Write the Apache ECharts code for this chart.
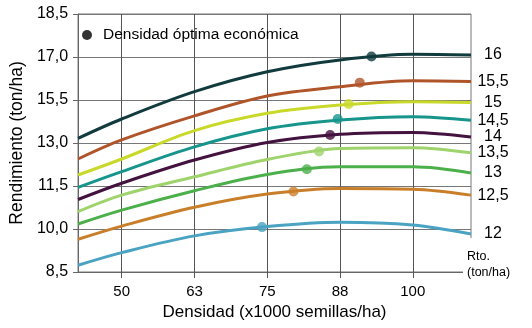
<!DOCTYPE html>
<html>
<head>
<meta charset="utf-8">
<script src="https://cdn.jsdelivr.net/npm/echarts@6/dist/echarts.min.js"></script>
<style>html,body{margin:0;padding:0;background:#fff;}#c{width:532px;height:328px;}</style>
</head>
<body>
<div id="c"></div>
<script>
// Density (x1000 seeds/ha) sample points
const densidad = [42.5, 50, 62.5, 75, 87.5, 100, 110];
// Yield curves (ton/ha), one per "Rto." level
const rto16   = [13.68, 14.43, 15.49, 16.26, 16.72, 16.94, 16.91];
const rto15_5 = [12.88, 13.62, 14.55, 15.32, 15.68, 15.91, 15.88];
const rto15   = [12.26, 12.88, 13.98, 14.65, 14.97, 15.10, 15.07];
const rto14_5 = [11.78, 12.39, 13.35, 14.05, 14.39, 14.52, 14.38];
const rto14   = [11.31, 11.94, 12.84, 13.52, 13.84, 13.91, 13.73];
const rto13_5 = [10.84, 11.48, 12.19, 12.86, 13.29, 13.32, 13.12];
const rto13   = [10.36, 10.90, 11.65, 12.28, 12.58, 12.58, 12.34];
const rto12_5 = [9.77, 10.28, 11.01, 11.52, 11.74, 11.71, 11.48];
const rto12   = [8.76, 9.25, 9.90, 10.26, 10.43, 10.32, 9.97];
// Economic optimum density points (same order as curves)
const optDensidad = [92.9, 90.9, 89.0, 87.1, 85.8, 83.9, 81.8, 79.5, 74.1];
const optRto      = [16.85, 15.84, 15.01, 14.43, 13.81, 13.17, 12.48, 11.62, 10.24];
// Labels
const curveLabels = ['16', '15,5', '15', '14,5', '14', '13,5', '13', '12,5', '12'];
const yTickLabels = ['8,5', '10,0', '11,5', '13,0', '15,5', '17,0', '18,5'];
const xTickValues = [50, 62.5, 75, 87.5, 100];

const curves = [rto16, rto15_5, rto15, rto14_5, rto14, rto13_5, rto13, rto12_5, rto12];
const colors = ['#123b3e', '#b0552a', '#c9d92a', '#17958c', '#43123f', '#9fd36c', '#4bb04a', '#c97f2a', '#4aa3c2'];

const yMin = 8.5, yMax = 18.5;
const yTickValues = yTickLabels.map((_, i) => yMin + i * (yMax - yMin) / (yTickLabels.length - 1));

const FONT = "'Liberation Sans', Arial, sans-serif";

const series = curves.map((vals, k) => ({
  type: 'line',
  name: 'Rto ' + curveLabels[k],
  data: densidad.map((d, i) => [d, vals[i]]),
  smooth: 0.35,
  showSymbol: false,
  symbol: 'none',
  lineStyle: { color: colors[k], width: 3 },
  itemStyle: { color: colors[k] },
  z: 2,
  endLabel: {
    show: true,
    formatter: () => curveLabels[k],
    color: '#000',
    fontSize: 16,
    fontFamily: FONT,
    align: 'center',
    distance: 22
  },
  silent: true
}));

series.push({
  type: 'scatter',
  name: 'Densidad óptima económica',
  data: optDensidad.map((d, i) => ({ value: [d, optRto[i]], itemStyle: { color: colors[i] } })),
  symbolSize: 10,
  itemStyle: { color: '#000' },
  z: 3,
  silent: true
});

const chart = echarts.init(document.getElementById('c'), null, { renderer: 'canvas' });
chart.setOption({
  animation: false,
  backgroundColor: '#fff',
  grid: { left: 73, right: 61, top: 14, bottom: 56, show: true, borderColor: '#777', borderWidth: 1, backgroundColor: 'transparent' },
  legend: {
    data: ['Densidad óptima económica'],
    left: 77, top: 22,
    icon: 'circle', itemWidth: 10, itemHeight: 10,
    textStyle: { fontSize: 15.5, fontFamily: FONT, color: '#000', padding: [0, 0, 0, 6] },
    selectedMode: false
  },
  xAxis: {
    type: 'value', min: 42.5, max: 110,
    name: 'Densidad (x1000 semillas/ha)', nameLocation: 'middle', nameGap: 31,
    nameTextStyle: { fontSize: 17, fontFamily: FONT, color: '#000' },
    axisLine: { show: true, lineStyle: { color: '#666', width: 1 } },
    axisTick: { show: true, length: 6, customValues: xTickValues, lineStyle: { color: '#555' } },
    axisLabel: { customValues: xTickValues, formatter: v => String(Math.round(v)), fontSize: 15, fontFamily: FONT, color: '#000', margin: 12 },
    splitLine: { show: true, lineStyle: { color: '#555', width: 1 } }
  },
  yAxis: {
    type: 'value', min: yMin, max: yMax,
    name: 'Rendimiento (ton/ha)', nameLocation: 'middle', nameGap: 44,
    nameTextStyle: { fontSize: 17.5, fontFamily: FONT, color: '#000' },
    axisLine: { show: true, lineStyle: { color: '#666', width: 1 } },
    axisTick: { show: true, length: 5, customValues: yTickValues, lineStyle: { color: '#666' } },
    axisLabel: {
      customValues: yTickValues,
      formatter: v => { let best = 0; yTickValues.forEach((t, i) => { if (Math.abs(t - v) < Math.abs(yTickValues[best] - v)) best = i; }); return yTickLabels[best]; },
      fontSize: 16, fontFamily: FONT, color: '#000', margin: 10
    },
    splitLine: { show: true, lineStyle: { color: '#777', width: 1 } }
  },
  graphic: [
    { type: 'rect', shape: { x: 463, y: 238, width: 69, height: 50 }, style: { fill: '#fff' }, z: 1, silent: true },
    { type: 'text', x: 467, y: 250, style: { text: 'Rto.', fontSize: 12.5, fontFamily: FONT, fill: '#000' }, z: 4 },
    { type: 'text', x: 467, y: 266, style: { text: '(ton/ha)', fontSize: 12.5, fontFamily: FONT, fill: '#000' }, z: 4 }
  ],
  series: series
});
</script>
</body>
</html>
